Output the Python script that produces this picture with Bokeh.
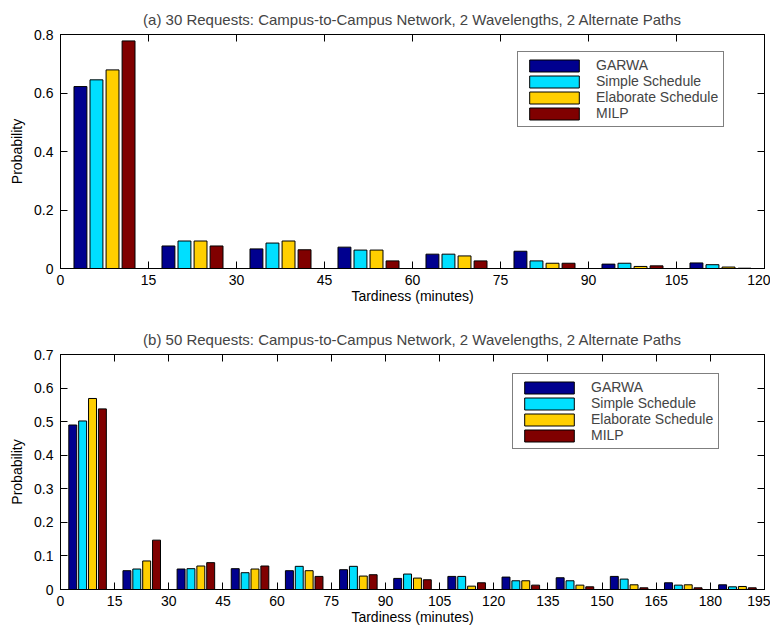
from bokeh.plotting import figure
from bokeh.models import (ColumnDataSource, Range1d, FixedTicker, LinearAxis, Legend, LegendItem,
                          CustomLabelingPolicy)
from bokeh.transform import dodge
from bokeh.layouts import column
from bokeh.embed import file_html
from bokeh.resources import INLINE

series = ["GARWA", "Simple Schedule", "Elaborate Schedule", "MILP"]
colors = ["#00008F", "#00DFFF", "#FFCF00", "#800000"]

# (a) 30 requests
bins_a = [7.5, 22.5, 37.5, 52.5, 67.5, 82.5, 97.5, 112.5]
garwa_a = [0.622, 0.077, 0.067, 0.073, 0.049, 0.059, 0.015, 0.019]
simple_a = [0.645, 0.094, 0.087, 0.063, 0.049, 0.026, 0.018, 0.013]
elab_a = [0.679, 0.094, 0.094, 0.063, 0.043, 0.018, 0.007, 0.005]
milp_a = [0.778, 0.077, 0.064, 0.026, 0.026, 0.018, 0.009, 0.001]
xticks_a = [0, 15, 30, 45, 60, 75, 90, 105, 120]
yticks_a = [0, 0.2, 0.4, 0.6, 0.8]
ylabels_a = ["0", "0.2", "0.4", "0.6", "0.8"]

# (b) 50 requests
bins_b = [7.5, 22.5, 37.5, 52.5, 67.5, 82.5, 97.5, 112.5, 127.5, 142.5, 157.5, 172.5, 187.5]
garwa_b = [0.490, 0.056, 0.061, 0.062, 0.056, 0.059, 0.033, 0.039, 0.037, 0.035, 0.039, 0.020, 0.014]
simple_b = [0.502, 0.061, 0.062, 0.050, 0.069, 0.069, 0.046, 0.039, 0.026, 0.026, 0.031, 0.013, 0.008]
elab_b = [0.569, 0.085, 0.070, 0.061, 0.056, 0.040, 0.034, 0.010, 0.026, 0.013, 0.014, 0.014, 0.009]
milp_b = [0.538, 0.147, 0.080, 0.070, 0.039, 0.044, 0.029, 0.020, 0.013, 0.008, 0.005, 0.005, 0.005]
xticks_b = [0, 15, 30, 45, 60, 75, 90, 105, 120, 135, 150, 165, 180, 195]
yticks_b = [0, 0.1, 0.2, 0.3, 0.4, 0.5, 0.6, 0.7]
ylabels_b = ["0", "0.1", "0.2", "0.3", "0.4", "0.5", "0.6", "0.7"]

offsets = [-4.1, -1.37, 1.37, 4.1]
BAR_W = 2.2
FONT = "Liberation Sans"
FS = "14px"

HIDE_ALL = CustomLabelingPolicy(code="""
for (const i of indices) indices.unset(i)
return indices
""")


def make_plot(title, bins, vals, xticks, yticks, ylabels, height, btop, bbot, legend_loc):
    p = figure(width=770, height=height, output_backend="svg", toolbar_location=None,
               x_range=Range1d(xticks[0], xticks[-1]), y_range=Range1d(yticks[0], yticks[-1]),
               min_border_left=60, min_border_right=6, min_border_top=btop, min_border_bottom=bbot)
    p.title.text = title
    p.title.align = "center"
    p.title.text_font = FONT
    p.title.text_font_size = "15px"
    p.title.text_font_style = "normal"
    p.title.standoff = 5
    p.xgrid.visible = False
    p.ygrid.visible = False
    p.outline_line_color = "black"
    p.outline_line_width = 1
    p.background_fill_color = "white"
    p.border_fill_color = "white"

    data = {"x": bins}
    keys = ["s0", "s1", "s2", "s3"]
    for k, v in zip(keys, vals):
        data[k] = v
    src = ColumnDataSource(data)
    items = []
    for k, name, col, off in zip(keys, series, colors, offsets):
        r = p.vbar(x=dodge("x", off), top=k, width=BAR_W, bottom=0, source=src,
                   fill_color=col, line_color="black", line_width=1)
        items.append(LegendItem(label=name, renderers=[r]))

    overrides = {t: l for t, l in zip(yticks, ylabels)}
    for ax in (p.xaxis[0], p.yaxis[0]):
        ax.major_tick_in = 7
        ax.major_tick_out = 0
        ax.minor_tick_line_color = None
        ax.axis_line_color = "black"
        ax.major_tick_line_color = "black"
        ax.major_label_text_font = FONT
        ax.major_label_text_font_size = FS
        ax.major_label_text_color = "black"
        ax.axis_label_text_font = FONT
        ax.axis_label_text_font_size = FS
        ax.axis_label_text_font_style = "normal"
        ax.axis_label_text_color = "black"
    p.xaxis[0].ticker = FixedTicker(ticks=xticks)
    p.yaxis[0].ticker = FixedTicker(ticks=yticks)
    p.yaxis[0].major_label_overrides = overrides
    p.xaxis[0].axis_label = "Tardiness (minutes)"
    p.xaxis[0].axis_label_standoff = 0
    p.xaxis[0].major_label_standoff = 6
    p.yaxis[0].axis_label = "Probability"
    p.yaxis[0].axis_label_standoff = 6
    p.yaxis[0].major_label_standoff = 7

    top_ax = LinearAxis(ticker=FixedTicker(ticks=xticks))
    right_ax = LinearAxis(ticker=FixedTicker(ticks=yticks))
    for ax in (top_ax, right_ax):
        ax.major_tick_in = 7
        ax.major_tick_out = 0
        ax.minor_tick_line_color = None
        ax.major_label_text_font_size = "1px"
        ax.major_label_standoff = 0
        ax.major_label_policy = HIDE_ALL
        ax.axis_line_color = "black"
    p.add_layout(top_ax, "above")
    p.add_layout(right_ax, "right")

    legend = Legend(items=items, location=legend_loc)
    legend.label_text_font = FONT
    legend.label_text_font_size = FS
    legend.glyph_width = 62
    legend.glyph_height = 15
    legend.label_height = 15
    legend.label_standoff = 11
    legend.spacing = 0
    legend.padding = 5
    legend.margin = 0
    legend.border_line_color = "black"
    legend.border_line_width = 1
    legend.background_fill_alpha = 1
    p.add_layout(legend, "center")
    return p


pa = make_plot("(a) 30 Requests: Campus-to-Campus Network, 2 Wavelengths, 2 Alternate Paths",
               bins_a, [garwa_a, simple_a, elab_a, milp_a], xticks_a, yticks_a, ylabels_a,
               308, 34, 40, (457, 141))
pb = make_plot("(b) 50 Requests: Campus-to-Campus Network, 2 Wavelengths, 2 Alternate Paths",
               bins_b, [garwa_b, simple_b, elab_b, milp_b], xticks_b, yticks_b, ylabels_b,
               319, 46, 38, (452, 140))

layout = column(pa, pb, spacing=0)
open("out.html", "w").write(file_html(layout, INLINE))
